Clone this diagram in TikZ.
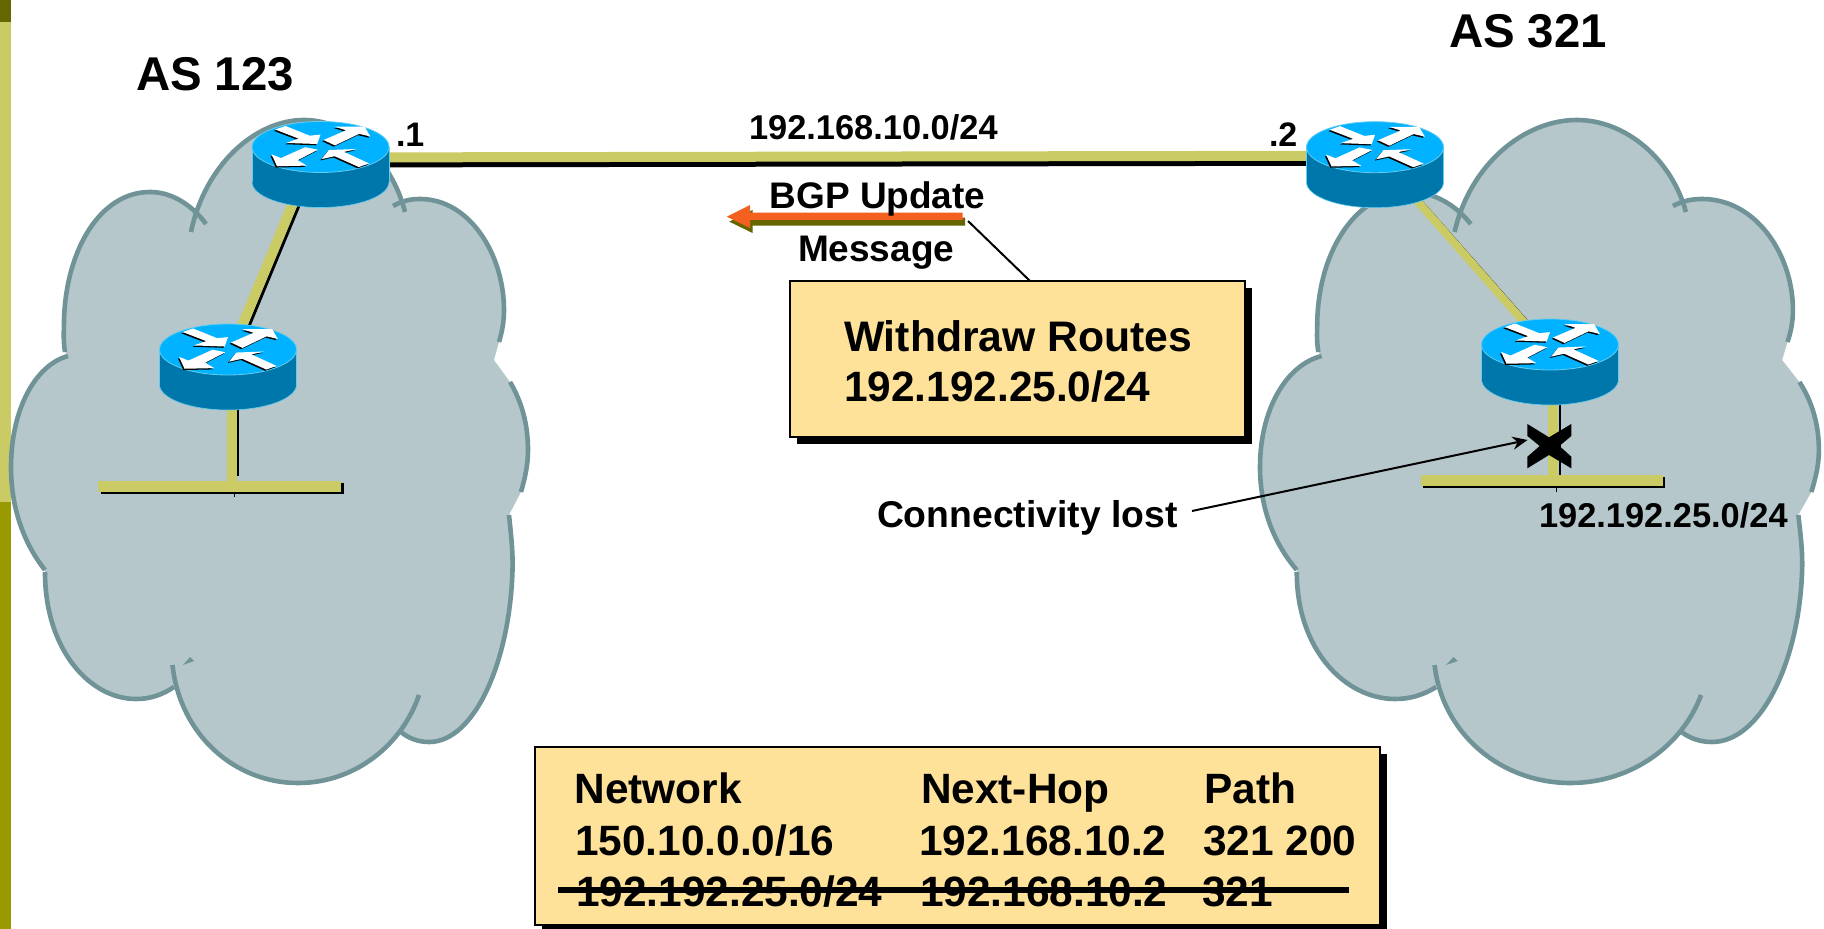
\documentclass[tikz,border=0pt]{standalone}
\usepackage{fontspec}
\setmainfont{Liberation Sans}
\usetikzlibrary{arrows.meta,shadows}
\definecolor{cloudfill}{HTML}{B5C7CA}
\definecolor{cloudedge}{HTML}{6F9396}
\definecolor{linkgold}{HTML}{CBCB66}
\definecolor{boxfill}{HTML}{FEE29A}
\definecolor{routertop}{HTML}{00B2FF}
\definecolor{routerside}{HTML}{0077AA}
\definecolor{routeredge}{HTML}{66CCEE}
\definecolor{barolive}{HTML}{999900}
\definecolor{bardark}{HTML}{666600}
\definecolor{msgorange}{HTML}{F4601F}
\newcommand{\lobeA}{(191,232) .. controls (205,165) and (255,120) .. (304,120) .. controls (350,120) and (392,160) .. (405,212)}
\newcommand{\lobeB}{(393,206) .. controls (402,201) and (410,199) .. (420,199) .. controls (470,199) and (504,255) .. (504,310) .. controls (504,322) and (502,332) .. (499,342)}
\newcommand{\lobeC}{(510,382) .. controls (522,402) and (528,425) .. (528,450) .. controls (528,465) and (525,478) .. (521,492)}
\newcommand{\lobeD}{(509,515) .. controls (511,535) and (513,550) .. (512.5,570) .. controls (510,660) and (475,742) .. (429,742) .. controls (418,742) and (408,738) .. (401,732)}
\newcommand{\lobeE}{(419,695) .. controls (402,745) and (355,783) .. (298,783) .. controls (235,783) and (180,735) .. (172.5,665)}
\newcommand{\lobeF}{(174,687) .. controls (162,695) and (150,699) .. (136,699) .. controls (90,699) and (45,650) .. (45,572)}
\newcommand{\lobeG}{(45,570) .. controls (25,545) and (11,510) .. (11,467) .. controls (11,410) and (35,365) .. (68,356)}
\newcommand{\lobeH}{(65,352) .. controls (63,340) and (64,330) .. (64,320) .. controls (66,250) and (100,192) .. (150,192) .. controls (172,192) and (192,205) .. (206,224)}
\newcommand{\cloudshape}{%
  \fill[cloudfill] \lobeA -- \lobeB -- (494,360) -- \lobeC -- \lobeD -- \lobeE -- \lobeF -- \lobeG -- \lobeH -- cycle;
  \draw[cloudstroke] \lobeA; \draw[cloudstroke] \lobeB; \draw[cloudstroke] \lobeC; \draw[cloudstroke] \lobeD;
  \draw[cloudstroke] \lobeE; \draw[cloudstroke] \lobeF; \draw[cloudstroke] \lobeG; \draw[cloudstroke] \lobeH;
  \fill[cloudedge] (190,657) -- (194,661) -- (183,665) -- cycle;
}
\tikzset{
  cloudstroke/.style={draw=cloudedge,line width=2.3pt},
  goldlink/.style={draw=linkgold,line width=5pt},
  blacklink/.style={draw=black,line width=#1},
  routerslot/.style={minimum width=68.5pt,minimum height=43pt,inner sep=0pt,outer sep=0pt},
  lanbar/.style={fill=linkgold,inner sep=0pt,outer sep=0pt,drop shadow={shadow xshift=1.25pt,shadow yshift=-1.1pt,fill=black,opacity=1}},
  infobox/.style={fill=boxfill,draw=black,line width=1pt,inner sep=0pt,outer sep=0pt,drop shadow={shadow xshift=3.5pt,shadow yshift=-3.5pt,fill=black,opacity=1}},
  lbl/.style={font=\bfseries\fontsize{#1}{#1}\selectfont,inner sep=0pt,outer sep=0pt,anchor=base west},
  routericon/.pic={
    \fill[routerside,draw=routeredge,line width=.3pt] (0,17.5) ellipse [x radius=68.5,y radius=25.5];
    \fill[routerside] (-68.5,-17.5) rectangle (68.5,17.5);
    \draw[routeredge,line width=.3pt] (-68.5,-17.5) -- (-68.5,17.5) (68.5,-17.5) -- (68.5,17.5);
    \fill[routertop,draw=routeredge,line width=.4pt] (0,-17.5) ellipse [x radius=68.5,y radius=25.5];
    \begin{scope}[shift={(0,-18)},xscale=1.04,yscale=1.08]
      \foreach \dx/\dy/\col in {-1.2/1.2/black,0/0/white}{
        \begin{scope}[shift={(\dx,\dy)}]
          \fill[\col] (-43.6,-15.7) -- (-33.6,-19) -- (-10.4,-10) -- (0,-11) -- (-3.2,-2.3) -- (-32.9,-3.3) -- (-21,-7.3) -- cycle;
          \fill[\col] (2.9,-6) -- (24.6,-15) -- (13.9,-18.3) -- (42.5,-18.3) -- (47.9,-9.3) -- (37.1,-11.7) -- (13.9,-1) -- cycle;
          \fill[\col] (-2.5,3) -- (-14.9,.7) -- (-38,10.7) -- (-47,7.3) -- (-41.8,18.3) -- (-13.2,17.7) -- (-22,12.7) -- cycle;
          \fill[\col] (1,11.7) -- (8,3.3) -- (35,2.3) -- (22.5,5) -- (46.8,15.7) -- (36.8,19) -- (13.6,9) -- cycle;
        \end{scope}
      }
    \end{scope}
  }
}
\begin{document}
\begin{tikzpicture}[x=0.5pt,y=-0.5pt]
\useasboundingbox (0,0) rectangle (1824,929);
\fill[white] (0,0) rectangle (1824,929);
% side bar
\fill[bardark] (0,0) rectangle (11,22);
\fill[linkgold] (0,22) rectangle (11,502);
\fill[barolive] (0,502) rectangle (11,929);
% clouds
\cloudshape
\begin{scope}[shift={(1248.1,0)},xscale=1.081]
\cloudshape
\end{scope}
% router slots
\node[routerslot] (r1) at (320.5,164.5) {};
\node[routerslot] (r2) at (228,367) {};
\node[routerslot] (r3) at (1375,164.7) {};
\node[routerslot] (r4) at (1550,362) {};
% LAN bars
\node[lanbar,minimum width=121.5pt,minimum height=5.5pt] (lan1) at (219.5,486.5) {};
\node[lanbar,minimum width=121pt,minimum height=5.35pt] (lan2) at (1541.6,480.3) {};
% connectors
\draw[blacklink=3pt] (r1.center) -- ([shift={(0,-2)}]r3.center);
\draw[goldlink] ([shift={(0,-7)}]r1.center) -- ([shift={(0,-9)}]r3.center);
\draw[blacklink=1.5pt] ([shift={(-4.5,0)}]r1.center) -- ([shift={(4,0)}]r2.center);
\draw[goldlink] ([shift={(-11.5,0)}]r1.center) -- ([shift={(-3,0)}]r2.center);
\draw[blacklink=.5pt] ([shift={(15,0)}]r3.center) -- ([shift={(14,0)}]r4.center);
\draw[draw=linkgold,line width=4pt] ([shift={(10.4,0)}]r3.center) -- ([shift={(9,0)}]r4.center);
\draw[blacklink=1pt] ([shift={(10,0)}]r2.center) -- ([shift={(10,-5)}]r2.center |- lan1.north);
\draw[goldlink] ([shift={(4,0)}]r2.center) -- ([shift={(4,0)}]r2.center |- lan1.north);
\draw[blacklink=1pt] ([shift={(10,0)}]r4.center) -- ([shift={(10,0)}]r4.center |- lan2.north);
\draw[goldlink] ([shift={(3.4,0)}]r4.center) -- ([shift={(3.4,0)}]r4.center |- lan2.north);
\coordinate (tick1a) at (234.6,492); \coordinate (tick1b) at (234.6,497);
\coordinate (tick2a) at (1556.6,486); \coordinate (tick2b) at (1556.6,492);
\draw[blacklink=.4pt] (tick1a) -- (tick1b);
\draw[blacklink=.4pt] (tick2a) -- (tick2b);
% routers
\pic at (r1.center) {routericon};
\pic at (r2.center) {routericon};
\pic at (r3.center) {routericon};
\pic at (r4.center) {routericon};
% failure mark
\coordinate (xm) at (1549,446);
\fill[black,shift={(xm)}] (-21.6,-22) -- (0,-8.7) -- (22.3,-22) -- (22.3,-10) -- (10.4,0) -- (22.3,10.7) -- (22.3,22.3) -- (0,9) -- (-21.6,22.3) -- (-21.6,10.7) -- (-9.3,0) -- (-21.6,-10) -- cycle;
% update arrow
\fill[bardark] (729.3,221.7) -- (752.5,210) -- (752.5,217.7) -- (965,217.7) -- (965,225.7) -- (752.5,225.7) -- (752.5,233) -- cycle;
\fill[msgorange] (726.8,216.7) -- (750,205) -- (750,212.7) -- (962.5,212.7) -- (962.5,220) -- (750,220) -- (750,228) -- cycle;
% info boxes
\node[infobox,minimum width=227.3pt,minimum height=78pt] (box1) at (1017.3,359) {};
\node[infobox,minimum width=422.5pt,minimum height=89pt] (box2) at (957.5,836) {};
\coordinate (callout) at (968,221);
\draw[blacklink=1pt] (callout) -- ([shift={(240,0)}]box1.north west);
% labels
\node[lbl=23.7] (as1) at (136,90.7) {AS 123};
\node[lbl=23.7] (as2) at (1449,47.7) {AS 321};
\node[lbl=17] (dot1) at (396,146.7) {.1};
\node[lbl=17] (dot2) at (1269,146.7) {.2};
\node[lbl=17.2] (subnet) at (749,139.3) {192.168.10.0/24};
\node[lbl=18.5] (bgp) at (769.6,208.5) {BGP Update};
\node[lbl=18.5] (msg) at (798,262) {Message};
\node[lbl=21.35] (wd1) at (844,351.5) {Withdraw Routes};
\node[lbl=21.2] (wd2) at (844,402) {192.192.25.0/24};
\node[lbl=18.65] (lost) at (877,528) {Connectivity lost};
\node[lbl=17.2] (lan2lbl) at (1539,527.7) {192.192.25.0/24};
\coordinate (lostarrow) at (1192,511);
\coordinate (xmarkin) at (1527.5,440);
\draw[blacklink=1pt,-{Stealth[length=7.5pt,width=6.5pt]}] (lostarrow) -- (xmarkin);
% table
\node[lbl=21.2] (th1) at (574.5,803.5) {Network};
\node[lbl=21.2] (th2) at (921,803.5) {Next-Hop};
\node[lbl=21.2] (th3) at (1204.5,803.5) {Path};
\node[lbl=21.2] (c11) at (575,855) {150.10.0.0/16};
\node[lbl=21.2] (c12) at (919,855) {192.168.10.2};
\node[lbl=21.2] (c13) at (1203,855) {321 200};
\node[lbl=21.2] (c21) at (576,906) {192.192.25.0/24};
\node[lbl=21.2] (c22) at (920,906) {192.168.10.2};
\node[lbl=21.2] (c23) at (1202,906) {321};
\coordinate (strikeA) at (558,890);
\coordinate (strikeB) at (1349,890);
\draw[blacklink=3pt] (strikeA) -- (strikeB);
\end{tikzpicture}
\end{document}
